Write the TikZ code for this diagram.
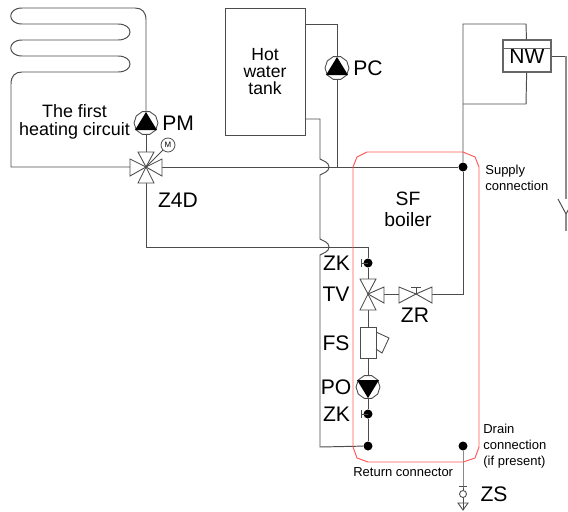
\documentclass[tikz,border=0pt]{standalone}
\usepackage{fontspec}
\setmainfont{Liberation Sans}
\usetikzlibrary{shapes}

\tikzset{
    pipe/.style={draw=black!70, line width=0.55pt},
    valvepart/.style={draw=black!70, line width=0.5pt, fill=white},
    joint/.style={circle, fill=black, inner sep=0pt, minimum size=0.18cm},
    pumpbody/.style={regular polygon, regular polygon sides=10, draw=black!70, line width=0.5pt,
        fill=white, inner sep=0pt, minimum size=0.48cm},
    tag/.style={inner sep=0pt, font=\fontsize{12}{12}\selectfont},
    midtag/.style={inner sep=0pt, align=center, font=\fontsize{10.2}{10}\selectfont},
    smalltag/.style={inner sep=0pt, align=left, font=\fontsize{7.4}{9.1}\selectfont}
}

\begin{document}
\begin{tikzpicture}[x=0.02cm, y=-0.02cm]

            \useasboundingbox (0, 0) rectangle (568, 511);

            % first heating circuit
            \coordinate (coilin) at (11, 167);
            \coordinate (coilout) at (146, 20);
            \node[pumpbody] (pm) at (146, 123) {};
            \node[circle, draw=black!70, line width=0.45pt, inner sep=0pt, minimum size=0.28cm,
                font=\fontsize{4.5}{5}\selectfont] (motor) at (168, 145) {M};
            \coordinate (zfd) at (146, 167);
            \coordinate (zfdleft) at (130, 167);
            \coordinate (zfdright) at (162, 167);
            \coordinate (zfdtop) at (146, 152);
            \coordinate (zfddown) at (146, 183);
            \coordinate (retcorner) at (146, 247);

            \draw[pipe] (zfdleft) -- (coilin)
            -- (11, 84)
            .. controls (11, 76) and (15, 72) .. (22, 72)
            -- (118, 72)
            .. controls (134, 72) and (134, 56) .. (118, 56)
            -- (22, 56)
            .. controls (7, 56) and (7, 40) .. (22, 40)
            -- (118, 40)
            .. controls (134, 40) and (134, 24) .. (118, 24)
            -- (22, 24)
            .. controls (7, 24) and (7, 8) .. (22, 8)
            -- (135, 8)
            .. controls (142, 8) and (146, 12) .. (coilout)
            -- (pm);
            \draw[pipe] (pm) -- (zfdtop);
            \draw[pipe] (zfddown) -- (retcorner);

            % hot water tank with its loop
            \node[draw=black!70, line width=0.55pt, minimum width=1.6cm, minimum height=2.54cm,
                inner sep=0pt, midtag, font=\fontsize{10}{10}\selectfont] (tank) at (265, 71.5) {Hot\\[-0.3pt]water\\[-0.3pt]tank};
            \coordinate (tankhot) at (305, 24);
            \coordinate (tankcold) at (305, 119);
            \coordinate (pchigh) at (337, 24);
            \node[pumpbody] (pc) at (337, 68) {};
            \coordinate (pclow) at (337, 167);
            \coordinate (coldtop) at (320, 119);
            \coordinate (coldlow) at (320, 447);

            % boiler side
            \coordinate (retend) at (368, 247);
            \node[joint] (zkup) at (368, 263) {};
            \coordinate (tv) at (368, 294);
            \coordinate (tvtop) at (368, 279);
            \coordinate (tvdown) at (368, 310);
            \coordinate (tvright) at (384, 294);
            \coordinate (zr) at (416, 294);
            \coordinate (zrleft) at (399, 294);
            \coordinate (zrright) at (432, 294);
            \coordinate (zrend) at (463, 294);
            \node[draw=black!70, line width=0.5pt, minimum width=0.32cm, minimum height=0.62cm, inner sep=0pt] (fs) at (368, 342.5) {};
            \node[pumpbody] (po) at (368, 387) {};
            \node[joint] (zklow) at (368, 414) {};
            \node[joint] (ret) at (368, 446) {};
            \node[joint] (supply) at (463, 167) {};
            \node[joint] (drain) at (463, 446) {};

            % supply side
            \coordinate (nwtop) at (463, 24);
            \coordinate (nwjoin) at (463, 104);
            \node[draw=black!60, line width=0.6pt, minimum width=0.96cm, minimum height=0.64cm, inner sep=0pt, tag] (nw) at (527, 56) {NW};
            \coordinate (nwabove) at (526, 24);
            \coordinate (nwbelow) at (526, 104);
            \coordinate (nwout) at (566, 56);
            \coordinate (nwdown) at (566, 199);
            \coordinate (forkleft) at (558, 199);
            \coordinate (forkright) at (572, 203);
            \coordinate (fork) at (566, 214);
            \coordinate (forkend) at (566, 231);

            \draw[pipe] (tankhot) -- (pchigh) -- (pc);
            \draw[pipe] (pc) -- (pclow);
            \draw[pipe] (tankcold) -- (coldtop)
            -- (320, 159)
            .. controls (323, 161) and (329, 162) .. (329, 167)
            .. controls (329, 172) and (323, 173) .. (320, 175)
            -- (320, 239)
            .. controls (323, 241) and (329, 242) .. (329, 247)
            .. controls (329, 252) and (323, 253) .. (320, 255)
            -- (coldlow) -- (ret);
            \draw[pipe] (retcorner) -- (retend) -- (zkup);
            \draw[pipe] (zkup) -- (tvtop);
            \draw[pipe] (tvdown) -- (fs);
            \draw[pipe] (fs) -- (po);
            \draw[pipe] (po) -- (zklow);
            \draw[pipe] (zklow) -- (ret);
            \draw[pipe] (zfdright) -- (supply);
            \draw[pipe] (tvright) -- (zrleft);
            \draw[pipe] (zrright) -- (zrend) -- (supply);
            \draw[pipe] (supply) -- (nwjoin) -- (nwtop) -- (nwabove) -- (nw);
            \draw[pipe] (nw) -- (nwbelow) -- (nwjoin);
            \draw[pipe] (nw) -- (nwout);
            \draw[black!45, line width=1.1pt] (nwout) -- (nwdown);
            \draw[pipe] (forkleft) -- (fork) -- (forkright);
            \draw[black!45, line width=1.1pt] (fork) -- (forkend);
            \draw[draw=black!60, line width=0.5pt] (503, 48) -- (551, 48);

            % four way valve
            \draw[valvepart] (zfd) -- (138, 152) -- (154, 152) -- cycle;
            \draw[valvepart] (zfd) -- (138, 183) -- (154, 183) -- cycle;
            \draw[valvepart] (zfd) -- (130, 159) -- (130, 176) -- cycle;
            \draw[valvepart] (zfd) -- (162, 159) -- (162, 176) -- cycle;
            \draw[valvepart] (zfd) -- (motor);

            % three way valve and the valve next to it
            \draw[valvepart] (tv) -- (360, 279) -- (376, 279) -- cycle;
            \draw[valvepart] (tv) -- (360, 310) -- (376, 310) -- cycle;
            \draw[valvepart] (tv) -- (384, 287) -- (384, 303) -- cycle;
            \draw[valvepart] (zr) -- (399, 287) -- (399, 303) -- cycle;
            \draw[valvepart] (zr) -- (432, 287) -- (432, 303) -- cycle;
            \draw[valvepart] (zr) -- (416, 287) (411, 287) -- (421, 287);

            % strainer pocket
            \draw[valvepart, fill=none] (376, 332) -- (389, 338) -- (382, 353) -- (376, 349);

            % stop valve handles
            \foreach \zky in {263, 414} {
                \draw[valvepart] (368, \zky) -- (361, \zky) (361, \zky - 4) -- (361, \zky + 4);
            }

            % pump triangles
            \fill (146, 112) -- (135, 130) -- (157, 130) -- cycle;
            \fill (337, 57) -- (326, 75) -- (348, 75) -- cycle;
            \fill (368, 398) -- (357, 380) -- (379, 380) -- cycle;

            % drain cock
            \coordinate (zstick) at (463, 486);
            \node[circle, draw=black!70, line width=0.5pt, inner sep=0pt, minimum size=0.14cm] (zsball) at (463, 494) {};
            \coordinate (zsarrow) at (463, 510);
            \draw[pipe] (drain) -- (zstick) -- (zsball);
            \draw[pipe] (zsball) -- (zsarrow);
            \draw[valvepart] (459, 486) -- (467, 486);
            \draw[valvepart, fill=none] (458, 503) -- (468, 503) -- (zsarrow) -- cycle;

            % boiler outline
            \draw[red!65, line width=0.55pt] (353, 167) -- (357, 157) -- (367, 152)
            -- (463, 152) -- (475, 157) -- (479, 167)
            -- (479, 447) -- (475, 458) -- (463, 462)
            -- (368, 462) -- (357, 458) -- (353, 447) -- cycle;

            % labels
            \node[midtag] (circuit) at (74.5, 122) {The first\\heating circuit};
            \node[tag, anchor=west] (pmtag) at (162, 123) {PM};
            \node[tag] (zfdtag) at (178, 200) {Z4D};
            \node[tag, anchor=west] (pctag) at (353, 68) {PC};
            \node[midtag, font=\fontsize{11}{12}\selectfont] (boiler) at (408, 209.5) {SF\\boiler};
            \node[smalltag, anchor=west] (supplytag) at (485, 178) {Supply\\connection};
            \node[tag] (zkuptag) at (336.5, 263) {ZK};
            \node[tag] (tvtag) at (336, 294) {TV};
            \node[tag] (zrtag) at (415, 315) {ZR};
            \node[tag] (fstag) at (336, 343) {FS};
            \node[tag] (potag) at (336, 387) {PO};
            \node[tag] (zklowtag) at (336.5, 414) {ZK};
            \node[smalltag, anchor=west] (draintag) at (483, 446) {Drain\\connection\\(if present)};
            \node[smalltag, anchor=west] (returntag) at (353, 472) {Return connector};
            \node[tag] (zstag) at (494, 494) {ZS};
        \end{tikzpicture}
\end{document}
